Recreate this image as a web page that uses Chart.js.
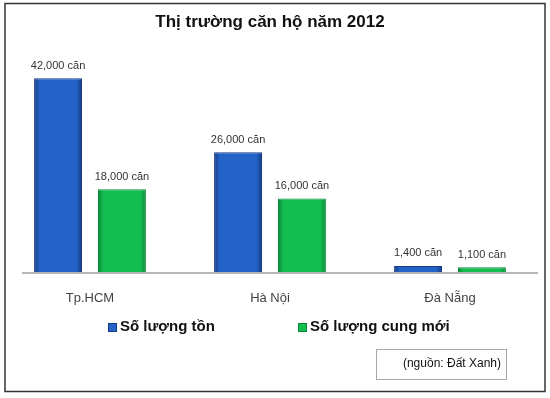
<!DOCTYPE html>
<html>
<head>
<meta charset="utf-8">
<script src="https://cdn.jsdelivr.net/npm/chart.js@4/dist/chart.umd.min.js"></script>
<style>
  html, body { margin: 0; padding: 0; background: #fff; }
  #wrap { width: 550px; height: 398px; position: relative; }
</style>
</head>
<body>
<div id="wrap"><canvas id="grafica"></canvas></div>
<script>
// Datos del gráfico
var ciudades = ['Tp.HCM', 'Hà Nội', 'Đà Nẵng'];
var serieTon = [42000, 26000, 1400];
var serieCungMoi = [18000, 16000, 1100];
var nombreTon = 'Số lượng tồn';
var nombreCungMoi = 'Số lượng cung mới';
var titulo = 'Thị trường căn hộ năm 2012';
var fuente = '(nguồn: Đất Xanh)';
var unidad = ' căn';

// Colores de las barras: [borde oscuro, centro claro]
var azul = ['#173b86', '#2463c8'];
var verde = ['#0a8a38', '#14bd50'];
var fuenteTexto = '"Liberation Sans", Arial, sans-serif';

function formatear(v) {
    return v.toLocaleString('en-US') + unidad;
}

// Relleno con degradado horizontal para dar relieve a cada barra
function relleno(colores) {
    return function (c) {
        var meta = c.chart.getDatasetMeta(c.datasetIndex);
        var bar = meta.data[c.dataIndex];
        if (!bar || !bar.width) {
            return colores[1];
        }
        var x0 = bar.x - bar.width / 2;
        var g = c.chart.ctx.createLinearGradient(x0, 0, x0 + bar.width, 0);
        g.addColorStop(0, colores[0]);
        g.addColorStop(0.12, colores[1]);
        g.addColorStop(0.88, colores[1]);
        g.addColorStop(1, colores[0]);
        return g;
    };
}

// Marco, línea base, etiquetas de valor, leyenda y cuadro de fuente
var extras = {
    id: 'extras',
    afterDatasetsDraw: function (chart) {
        var ctx = chart.ctx;
        var area = chart.chartArea;
        ctx.save();
        // linea base del eje
        ctx.strokeStyle = '#a0a0a0';
        ctx.lineWidth = 1.5;
        ctx.beginPath();
        ctx.moveTo(22, area.bottom + 0.5);
        ctx.lineTo(538, area.bottom + 0.5);
        ctx.stroke();
        // etiquetas de valor
        ctx.fillStyle = '#333';
        ctx.font = '11px ' + fuenteTexto;
        ctx.textAlign = 'center';
        ctx.textBaseline = 'bottom';
        chart.data.datasets.forEach(function (ds, i) {
            chart.getDatasetMeta(i).data.forEach(function (bar, j) {
                ctx.fillText(formatear(ds.data[j]), bar.x, bar.y - 7);
            });
        });
        // leyenda
        var itemsX = [108, 298];
        ctx.font = 'bold 15px ' + fuenteTexto;
        ctx.textAlign = 'left';
        ctx.textBaseline = 'middle';
        chart.data.datasets.forEach(function (ds, i) {
            var col = i === 0 ? azul : verde;
            ctx.fillStyle = col[1];
            ctx.fillRect(itemsX[i], 323, 9, 9);
            ctx.strokeStyle = col[0];
            ctx.lineWidth = 1;
            ctx.strokeRect(itemsX[i] + 0.5, 323.5, 8, 8);
            ctx.fillStyle = '#111';
            ctx.fillText(ds.label, itemsX[i] + 12, 327);
        });
        // cuadro de fuente
        ctx.strokeStyle = '#a8a8a8';
        ctx.lineWidth = 1;
        ctx.strokeRect(376.5, 349.5, 130, 30);
        ctx.fillStyle = '#111';
        ctx.font = '12px ' + fuenteTexto;
        ctx.textAlign = 'right';
        ctx.fillText(fuente, 501, 364);
        // marco exterior
        ctx.strokeStyle = '#333';
        ctx.lineWidth = 1.5;
        ctx.strokeRect(5, 3.5, 540, 388);
        ctx.restore();
    }
};

var chart = new Chart(document.getElementById('grafica').getContext('2d'), {
    type: 'bar',
    data: {
        labels: ciudades,
        datasets: [
            {
                label: nombreTon,
                data: serieTon,
                backgroundColor: relleno(azul),
                borderColor: azul[0],
                borderWidth: 1
            },
            {
                label: nombreCungMoi,
                data: serieCungMoi,
                backgroundColor: relleno(verde),
                borderColor: verde[0],
                borderWidth: 1
            }
        ]
    },
    options: {
        responsive: true,
        maintainAspectRatio: false,
        animation: false,
        categoryPercentage: 0.71,
        barPercentage: 0.75,
        layout: { padding: { left: 0, right: 10, top: 0, bottom: 74 } },
        plugins: {
            title: {
                display: true,
                text: titulo,
                color: '#111',
                font: { family: fuenteTexto, size: 17, weight: 'bold' },
                padding: { top: 12, bottom: 20 }
            },
            legend: { display: false },
            tooltip: { enabled: false }
        },
        scales: {
            x: {
                grid: { display: false, drawTicks: false },
                border: { display: false },
                ticks: {
                    color: '#444',
                    padding: 18,
                    font: { family: fuenteTexto, size: 13 }
                }
            },
            y: {
                display: false,
                min: 0,
                max: 47600
            }
        }
    },
    plugins: [extras]
});
// segunda pasada para que los degradados usen la posición de cada barra
chart.update();
</script>
</body>
</html>
